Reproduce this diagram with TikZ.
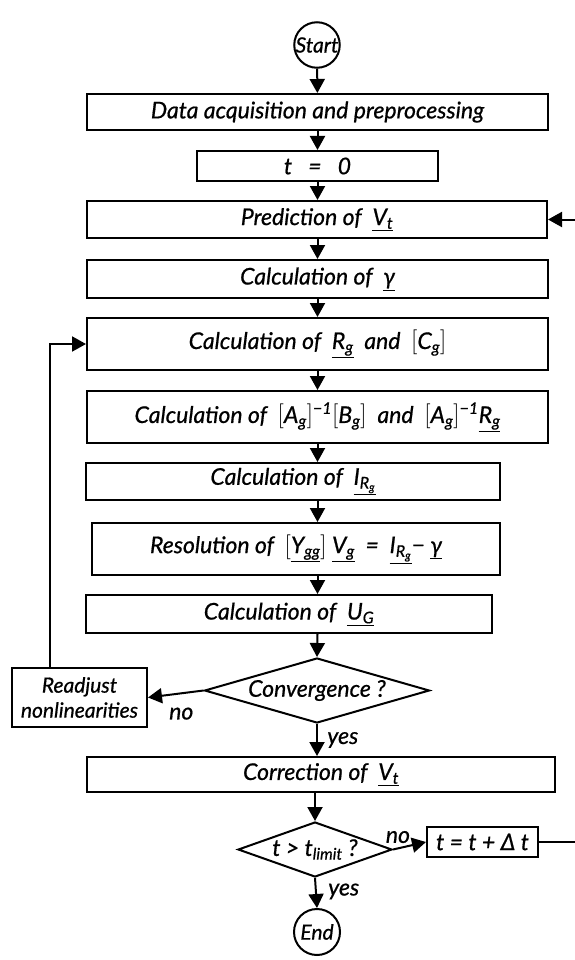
\documentclass[tikz,border=0pt]{standalone}
\usepackage{fontspec}
\setmainfont{Lato}[ItalicFeatures={FakeBold=0.7}]
\usepackage{tikz}
\usetikzlibrary{shapes.geometric, arrows.meta, positioning, calc}
\newcommand{\vect}[1]{\underline{#1}}
\newcommand{\sub}[1]{\textsubscript{#1}}

\begin{document}
\begin{tikzpicture}[
    x=1pt, y=-1pt,
    every node/.style={font=\fontsize{23}{27}\selectfont\itshape},
    stepbox/.style={rectangle, draw, line width=2pt, inner sep=0pt, align=center},
    terminal/.style={circle, draw, line width=2pt, inner sep=0pt, font=\fontsize{21}{25}\selectfont\itshape},
    decision/.style={diamond, draw, line width=2pt, inner sep=0pt},
    arrow/.style={-{Triangle[width=15pt,length=14pt]}, line width=2pt}
]
\useasboundingbox (0,0) rectangle (574,960);

% Start and initialisation
\node[terminal, minimum size=44pt] (start) at (317,45) {Start};
\node[stepbox, minimum width=461pt, minimum height=36pt] (data) at (317.5,112) {Data acquisition and preprocessing};
\node[stepbox, minimum width=241pt, minimum height=30pt] (tzero) at (317.5,166) {t \ \ = \ \ 0};

% Time step
\node[stepbox, minimum width=460pt, minimum height=37pt] (pred) at (317,219.5) {Prediction of \ \vect{V\sub{t}}};
\node[stepbox, minimum width=461pt, minimum height=38pt] (gamma) at (317.5,279) {Calculation of \ \vect{γ}};

% Nonlinear iteration
\node[stepbox, minimum width=461pt, minimum height=52pt] (rcalc) at (317.5,344) {Calculation of \ \vect{R\sub{g}} \ and \ $\Bigl[$C\sub{g}$\Bigr]$};
\node[stepbox, minimum width=461pt, minimum height=52pt] (acalc) at (317.5,417) {Calculation of \ $\Bigl[$A\sub{g}$\Bigr]$\textsuperscript{−1}$\Bigl[$B\sub{g}$\Bigr]$ \ and \ $\Bigl[$A\sub{g}$\Bigr]$\textsuperscript{−1}\vect{R\sub{g}}};
\node[stepbox, minimum width=414pt, minimum height=37pt] (icalc) at (293,481.5) {Calculation of \ \vect{I\sub{R\sub{g}}}};
\node[stepbox, minimum width=408pt, minimum height=52pt] (resol) at (296,549) {Resolution of \ $\Bigl[$\vect{Y\sub{gg}}$\Bigr]$ \vect{V\sub{g}} \ = \ \vect{I\sub{R\sub{g}}}− \vect{γ}};
\node[stepbox, minimum width=406pt, minimum height=38pt] (ucalc) at (289,614) {Calculation of \ \vect{U\sub{G}}};
\node[decision, minimum width=225pt, minimum height=65pt, aspect=3.4] (conv) at (317,690.5) {Convergence ?};
\node[stepbox, minimum width=135pt, minimum height=59pt, font=\fontsize{21}{25}\selectfont\itshape] (readjust) at (79.5,697.5) {Readjust\\nonlinearities};

% End of time step
\node[stepbox, minimum width=468pt, minimum height=35pt] (corr) at (321,774.5) {Correction of \ \vect{V\sub{t}}};
\node[decision, minimum width=154pt, minimum height=55pt, aspect=2.8] (limit) at (315,849.5) {t > t\sub{limit} ?};
\node[stepbox, minimum width=111pt, minimum height=30pt] (tstep) at (482.5,842) {t = t + Δ t};
\node[terminal, minimum size=46pt] (finish) at (317,932) {End};

% Arrows
\draw[arrow] (start) -- (data);
\draw[arrow] (data) -- (tzero);
\draw[arrow] (tzero) -- (tzero |- pred.north);
\draw[arrow] (pred.south -| tzero) -- (tzero |- gamma.north);
\draw[arrow] (gamma.south -| tzero) -- (tzero |- rcalc.north);
\draw[arrow] (rcalc.south -| tzero) -- (tzero |- acalc.north);
\draw[arrow] (acalc.south -| tzero) -- (tzero |- icalc.north);
\draw[arrow] (icalc.south -| tzero) -- (tzero |- resol.north);
\draw[arrow] (resol.south -| tzero) -- (tzero |- ucalc.north);
\draw[arrow] (ucalc.south -| tzero) -- (conv.north);
\draw[arrow] (conv.south) -- (conv.south |- corr.north) node[pos=0.5, right=6pt] {yes};
\draw[arrow] (conv.west) -- (readjust.east) node[pos=0.4, below=10pt] {no};
\draw[arrow] ([xshift=-30pt]readjust.north) |- (rcalc.west);
\draw[arrow] (corr.south -| limit) -- (limit.north);
\draw[arrow] (limit.east) -- (tstep.west) node[pos=0.15, above=1pt] {no};
\draw[arrow] (limit.south) -- (finish.north) node[pos=0.45, right=8pt] {yes};
\coordinate (back) at (600,842);
\draw[arrow] (tstep.east) -- (back) |- (pred.east);
\end{tikzpicture}
\end{document}
